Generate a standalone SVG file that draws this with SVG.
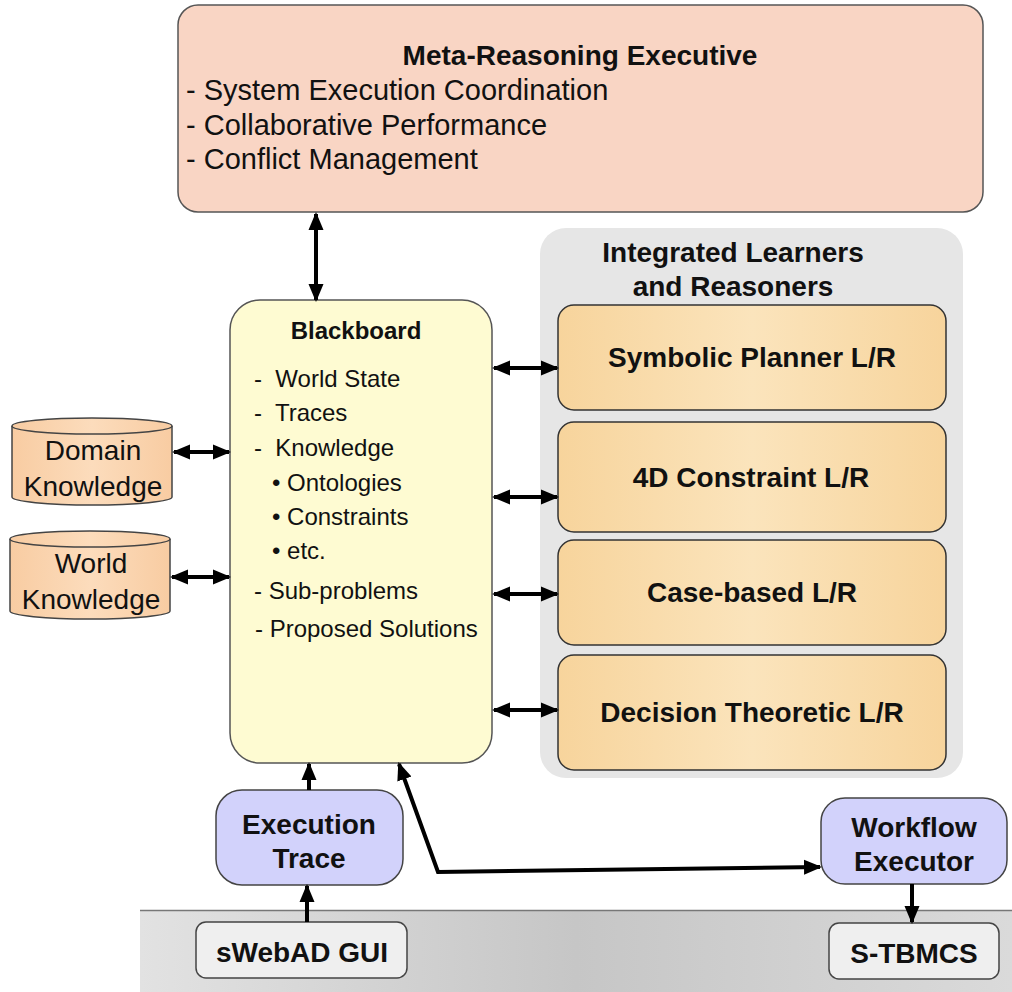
<svg xmlns="http://www.w3.org/2000/svg" width="1012" height="992" viewBox="0 0 1012 992">
<defs>
<style>
text{font-family:"Liberation Sans",Arial,sans-serif;fill:#111}
.b{font-weight:bold}
.t28{font-size:28px}
.t29{font-size:29px}
.t24{font-size:24px}
.c{text-anchor:middle}
.lr{fill:url(#orange);stroke:#333;stroke-width:1.5}
.blue{fill:#d2d2fb;stroke:#444;stroke-width:1.5}
.gray{fill:#efefef;stroke:#444;stroke-width:1.5}
.conn{stroke:#000;stroke-width:4;fill:none}
</style>
<linearGradient id="orange" x1="0" y1="0" x2="1" y2="0">
<stop offset="0" stop-color="#f7d49c"/>
<stop offset="0.5" stop-color="#fbe4bc"/>
<stop offset="1" stop-color="#f7d49c"/>
</linearGradient>
<linearGradient id="cyl" x1="0" y1="0" x2="1" y2="0">
<stop offset="0" stop-color="#f8cca2"/>
<stop offset="0.5" stop-color="#fcdcbc"/>
<stop offset="1" stop-color="#f8cca2"/>
</linearGradient>
<linearGradient id="band" x1="0" y1="0" x2="1" y2="0">
<stop offset="0" stop-color="#e2e2e2"/>
<stop offset="0.5" stop-color="#c6c6c6"/>
<stop offset="1" stop-color="#dadada"/>
</linearGradient>
<marker id="ah" markerUnits="userSpaceOnUse" markerWidth="18" markerHeight="18" viewBox="0 0 18 18" refX="16" refY="9" orient="auto-start-reverse">
<path d="M0,1.5 L18,9 L0,16.5 Z" fill="#000"/>
</marker>
</defs>

<g id="bottom-band">
<rect x="140" y="910" width="872" height="82" fill="url(#band)"/>
<line x1="140" y1="910.5" x2="1012" y2="910.5" stroke="#777" stroke-width="1.5"/>
</g>

<g id="meta-reasoning-executive">
<rect x="178" y="5" width="805" height="207" rx="20" fill="#f9d5c4" stroke="#555" stroke-width="1.5"/>
<text class="b t28 c" x="580" y="65">Meta-Reasoning Executive</text>
<text class="t29" x="186" y="100">- System Execution Coordination</text>
<text class="t29" x="186" y="135">- Collaborative Performance</text>
<text class="t29" x="186" y="169">- Conflict Management</text>
</g>

<g id="integrated-learners">
<rect x="540" y="228" width="423" height="550" rx="26" fill="#e6e6e6"/>
<text class="b t28 c" x="733" y="262">Integrated Learners</text>
<text class="b t28 c" x="733" y="296">and Reasoners</text>
</g>

<g id="symbolic-planner">
<rect class="lr" x="558" y="305" width="388" height="105" rx="16"/>
<text class="b t28 c" x="752" y="367">Symbolic Planner L/R</text>
</g>
<g id="constraint-4d">
<rect class="lr" x="558" y="422" width="388" height="110" rx="16"/>
<text class="b t28 c" x="751" y="487">4D Constraint L/R</text>
</g>
<g id="case-based">
<rect class="lr" x="558" y="540" width="388" height="105" rx="16"/>
<text class="b t28 c" x="752" y="602">Case-based L/R</text>
</g>
<g id="decision-theoretic">
<rect class="lr" x="558" y="655" width="388" height="115" rx="16"/>
<text class="b t28 c" x="752" y="722">Decision Theoretic L/R</text>
</g>

<g id="blackboard">
<rect x="230" y="300" width="262" height="463" rx="30" fill="#fefbd2" stroke="#555" stroke-width="1.5"/>
<text class="b t24 c" x="356" y="339">Blackboard</text>
<text class="t24" x="254" y="387" xml:space="preserve">-  World State</text>
<text class="t24" x="254" y="421" xml:space="preserve">-  Traces</text>
<text class="t24" x="254" y="456" xml:space="preserve">-  Knowledge</text>
<text class="t24" x="272" y="491">• Ontologies</text>
<text class="t24" x="272" y="525">• Constraints</text>
<text class="t24" x="272" y="559">• etc.</text>
<text class="t24" x="254" y="599">- Sub-problems</text>
<text class="t24" x="255" y="637">- Proposed Solutions</text>
</g>

<g id="domain-knowledge">
<path d="M12,426 A80,8 0 0 1 172,426 L172,497 A80,8 0 0 1 12,497 Z" fill="url(#cyl)" stroke="#444" stroke-width="1.5"/>
<path d="M12,426 A80,8 0 0 0 172,426" fill="none" stroke="#444" stroke-width="1.5"/>
<text class="t28 c" x="93" y="460">Domain</text>
<text class="t28 c" x="93" y="496">Knowledge</text>
</g>
<g id="world-knowledge">
<path d="M10,539 A80,8 0 0 1 170,539 L170,611 A80,8 0 0 1 10,611 Z" fill="url(#cyl)" stroke="#444" stroke-width="1.5"/>
<path d="M10,539 A80,8 0 0 0 170,539" fill="none" stroke="#444" stroke-width="1.5"/>
<text class="t28 c" x="91" y="573">World</text>
<text class="t28 c" x="91" y="609">Knowledge</text>
</g>

<g id="execution-trace">
<rect class="blue" x="216" y="790" width="187" height="95" rx="26"/>
<text class="b t28 c" x="309" y="834">Execution</text>
<text class="b t28 c" x="309" y="868">Trace</text>
</g>
<g id="workflow-executor">
<rect class="blue" x="821" y="798" width="186" height="86" rx="24"/>
<text class="b t28 c" x="914" y="837">Workflow</text>
<text class="b t28 c" x="914" y="871">Executor</text>
</g>
<g id="swebad-gui">
<rect class="gray" x="196" y="922" width="211" height="56" rx="10"/>
<text class="b t28 c" x="302" y="962">sWebAD GUI</text>
</g>
<g id="s-tbmcs">
<rect class="gray" x="829" y="923" width="170" height="56" rx="10"/>
<text class="b t28 c" x="914" y="963">S-TBMCS</text>
</g>

<g id="connectors">
<line class="conn" x1="316" y1="214" x2="316" y2="300" marker-start="url(#ah)" marker-end="url(#ah)"/>
<line class="conn" x1="494" y1="368" x2="557" y2="368" marker-start="url(#ah)" marker-end="url(#ah)"/>
<line class="conn" x1="494" y1="497" x2="557" y2="497" marker-start="url(#ah)" marker-end="url(#ah)"/>
<line class="conn" x1="494" y1="594" x2="557" y2="594" marker-start="url(#ah)" marker-end="url(#ah)"/>
<line class="conn" x1="494" y1="710" x2="557" y2="710" marker-start="url(#ah)" marker-end="url(#ah)"/>
<line class="conn" x1="174" y1="452" x2="229" y2="452" marker-start="url(#ah)" marker-end="url(#ah)"/>
<line class="conn" x1="172" y1="577" x2="229" y2="577" marker-start="url(#ah)" marker-end="url(#ah)"/>
<line class="conn" x1="309" y1="790" x2="309" y2="764" marker-end="url(#ah)"/>
<line class="conn" x1="307" y1="922" x2="307" y2="886" marker-end="url(#ah)"/>
<polyline class="conn" points="820,867 438,872 399,764" marker-start="url(#ah)" marker-end="url(#ah)"/>
<line class="conn" x1="912" y1="884" x2="912" y2="922" marker-end="url(#ah)"/>
</g>
</svg>
